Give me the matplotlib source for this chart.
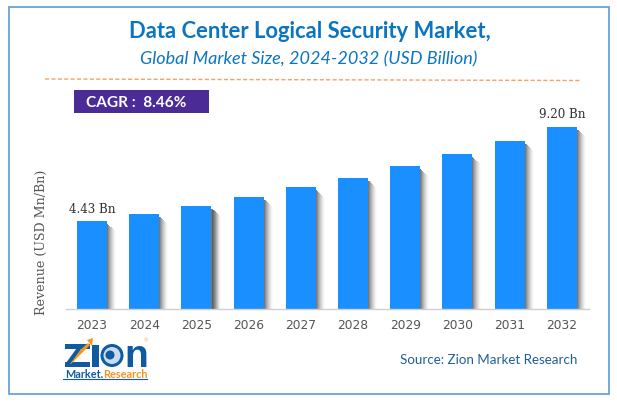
import matplotlib
matplotlib.use("Agg")
import matplotlib.pyplot as plt
from matplotlib.patches import Rectangle, Circle, Polygon

W, H = 617, 406

years = ["2023", "2024", "2025", "2026", "2027", "2028", "2029", "2030", "2031", "2032"]
revenue = [4.43, 4.80, 5.20, 5.66, 6.12, 6.62, 7.20, 7.81, 8.49, 9.20]
bar_labels = {0: "4.43 Bn", 9: "9.20 Bn"}

fig = plt.figure(figsize=(W / 100, H / 100), dpi=100, facecolor="white")

# page layer in pixel coords, for frame / header / logo
page = fig.add_axes([0, 0, 1, 1])
page.set_xlim(0, W)
page.set_ylim(H, 0)
page.axis("off")

page.add_patch(Rectangle((8.5, 8), 600, 387, fill=False, ec="#5B9BD5", lw=1.2))
page.text(310, 32, "Data Center Logical Security Market,", ha="center", va="center",
          family="Lato", weight="bold", fontsize=15.8, color="#0B75C2")
page.text(308.5, 59, "Global Market Size, 2024-2032 (USD Billion)", ha="center", va="center",
          family="Lato", style="italic", fontsize=13, color="#0B75C2")
page.plot([45, 580], [80, 81.5], color="#F4A26B", lw=1, ls=(0, (3, 1.6)))

page.add_patch(Rectangle((74, 91), 135, 23, fc="#4B2C96", ec="none"))
page.text(86, 103, "CAGR :  8.46%", ha="left", va="center", family="Lato", weight="bold",
          fontsize=11.1, color="white")

page.text(489, 360, "Source: Zion Market Research", ha="center", va="center",
          family="Lato", fontsize=9.6, color="#1F5F99")

# logo
blue = "#0F5AA0"
orange = "#F7941D"
page.text(64, 367.5, "Z", family="Liberation Sans", weight="bold", fontsize=23, color=blue,
          ha="left", va="baseline")
page.add_patch(Rectangle((65, 345), 25, 4.5, fc=blue, ec="none"))
page.add_patch(Rectangle((65, 363), 25, 4.5, fc=blue, ec="none"))
page.add_patch(Polygon([[65, 365], [88, 344], [90, 346], [68, 368]], fc=orange, ec="none"))
page.add_patch(Polygon([[87, 341], [93, 339], [92, 347]], fc=orange, ec="none"))
page.add_patch(Rectangle((92, 346), 7, 21.5, fc=blue, ec="none"))
page.add_patch(Circle((112, 356.5), 11.5, fc=blue, ec="none"))
page.add_patch(Circle((112, 356.5), 8.5, fc="#C9DCEE", ec="none"))
page.add_patch(Circle((110, 356), 4.5, fc=blue, ec="none"))
page.text(124.5, 367.5, "n", family="Liberation Sans", weight="bold", fontsize=28, color=blue,
          ha="left", va="baseline")
page.text(145, 341, "®", family="DejaVu Sans", fontsize=4.5, color="#F4B183", ha="center", va="center")
page.text(65, 378, "Market.", family="Lato", weight="bold", fontsize=7.8, color=blue,
          ha="left", va="baseline")
page.text(103, 378, "Research", family="Lato", weight="bold", fontsize=7.8, color=orange,
          ha="left", va="baseline")
page.plot([63, 147], [380, 380], color=blue, lw=0.8)

# chart
left, right, top, bottom = 66, 589, 127.5, 309.5
ax = fig.add_axes([left / W, 1 - bottom / H, (right - left) / W, (bottom - top) / H])
ax.patch.set_alpha(0)
ax.set_xlim(-0.5, 9.52)
ax.set_ylim(0, 9.20)
x = list(range(len(years)))
bar_w = 30 / 52.2

# soft shadow right of each bar, stacked strips fading out
strips = 9
for i in range(strips):
    off = bar_w / 2 + (i + 0.5) / 52.2
    # strips further out start lower, so the shadow widens going down
    shade = [v - (3 + i * 0.9) / 19.78 for v in revenue]
    ax.bar([p + off for p in x], shade, width=1.05 / 52.2, color="#555555",
           alpha=0.8 * (1 - i / strips) ** 1.6, lw=0, zorder=1)

ax.bar(x, revenue, width=bar_w, color="#1A8FFF", lw=0, zorder=2)

for i, label in bar_labels.items():
    ax.annotate(label, (x[i], revenue[i]), xytext=(0, 6), textcoords="offset pixels",
                ha="center", va="bottom", family="DejaVu Serif", fontsize=8.6, color="#333333")

for side in ["top", "right", "left"]:
    ax.spines[side].set_visible(False)
ax.spines["bottom"].set_color("#D0D0D0")
ax.spines["bottom"].set_linewidth(1)
ax.set_yticks([])
ax.set_xticks(x)
ax.set_xticklabels(years, family="DejaVu Sans", fontsize=8.8, color="#555555")
ax.tick_params(axis="x", length=0, pad=7)
page.text(41, 242.5, "Revenue (USD Mn/Bn)", rotation=90, ha="center", va="center",
          family="DejaVu Serif", fontsize=9.1, color="#555555")

fig.savefig("out.png", dpi=100)
